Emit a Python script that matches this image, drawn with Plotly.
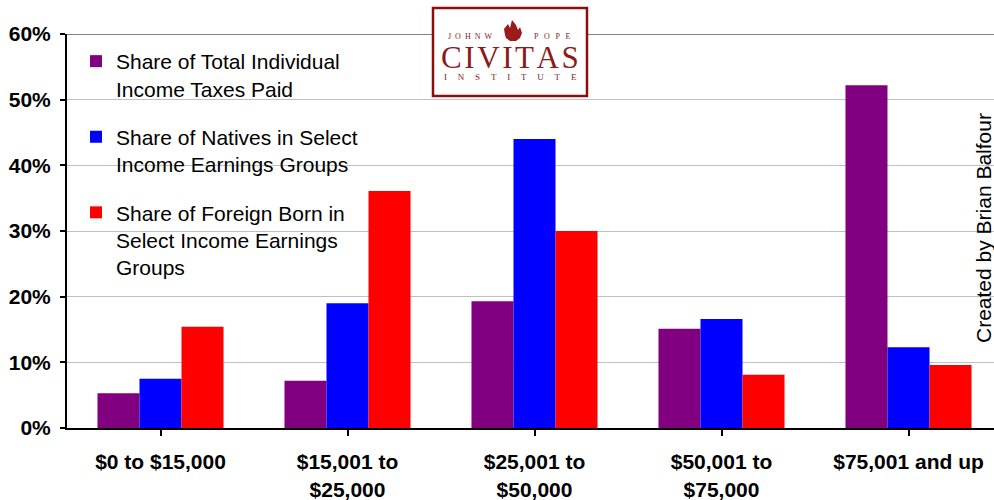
import plotly.graph_objects as go

categories = ["$0 to $15,000", "$15,001 to<br>$25,000", "$25,001 to<br>$50,000",
              "$50,001 to<br>$75,000", "$75,001 and up"]
taxes_paid = [5.3, 7.2, 19.3, 15.1, 52.2]
natives = [7.5, 19.0, 44.0, 16.6, 12.3]
foreign_born = [15.4, 36.1, 30.0, 8.1, 9.6]
series_names = ["Share of Total Individual<br>Income Taxes Paid",
                "Share of Natives in Select<br>Income Earnings Groups",
                "Share of Foreign Born in<br>Select Income Earnings<br>Groups"]
series_colors = ["#800080", "#0000FF", "#FF0000"]
y_ticks = [0, 10, 20, 30, 40, 50, 60]
y_tick_labels = ["0%", "10%", "20%", "30%", "40%", "50%", "60%"]

W, H = 994, 500
L, R, T, B = 67, 0, 34, 72
PW, PH = W - L - R, H - T - B
FONT = "Arial, Liberation Sans, sans-serif"
SERIF = "Liberation Serif, Times New Roman, serif"


def px(x):
    return (x - L) / PW


def py(y):
    return (H - B - y) / PH


fig = go.Figure()
for i, (name, vals, col) in enumerate(zip(series_names, [taxes_paid, natives, foreign_born], series_colors)):
    fig.add_trace(go.Bar(x=list(range(len(categories))), y=vals, name=name,
                         marker=dict(color=col, line=dict(width=0)),
                         legendgroup=f"g{i}"))

fig.update_layout(
    width=W, height=H,
    margin=dict(l=L, r=R, t=T, b=B, pad=0, autoexpand=False),
    paper_bgcolor="white", plot_bgcolor="white",
    barmode="group", bargap=0.326, bargroupgap=0,
    font=dict(family=FONT, color="black"),
    showlegend=True,
    legend=dict(x=px(76), y=py(41), xanchor="left", yanchor="top",
                bgcolor="rgba(0,0,0,0)", font=dict(size=21, family=FONT),
                valign="top", tracegroupgap=18, itemclick=False),
    xaxis=dict(range=[-0.5, -0.5 + PW / 187.0], tickmode="array",
               tickvals=list(range(len(categories))), ticktext=categories,
               tickson="boundaries", ticks="outside", ticklen=6, tickwidth=1.5, tickcolor="black",
               showline=True, linecolor="black", linewidth=2, showgrid=False, zeroline=False,
               tickfont=dict(size=21, family=FONT, weight="bold"), ticklabelstandoff=8,
               automargin=False, fixedrange=True),
    yaxis=dict(range=[0, 60], tickmode="array", tickvals=y_ticks, ticktext=y_tick_labels,
               ticks="outside", ticklen=5, tickwidth=1.5, tickcolor="black",
               showline=True, linecolor="black", linewidth=2,
               showgrid=True, gridcolor="#c0c0c0", gridwidth=1, zeroline=False,
               tickfont=dict(size=21, family=FONT, weight="bold"), ticklabelstandoff=5,
               automargin=False, fixedrange=True),
)

# top border of plot area
fig.add_shape(type="line", xref="paper", yref="y", x0=0, x1=1, y0=60, y1=60,
              line=dict(color="#808080", width=2), layer="above")

# Logo
logo_col = "#8B1A1A"
fig.add_shape(type="rect", xref="paper", yref="paper", x0=px(433), x1=px(587), y0=py(8), y1=py(96),
              fillcolor="white", line=dict(color="#8B0F0F", width=2.5), layer="above")
# flame
fx, fy = 513, 41
pts = [(fx - 8, fy - 6), (fx - 9, fy - 12), (fx - 5, fy - 17), (fx - 3, fy - 13), (fx - 1, fy - 21),
       (fx + 3, fy - 16), (fx + 5, fy - 11), (fx + 7, fy - 14), (fx + 9, fy - 8), (fx + 7, fy - 3),
       (fx + 3, fy), (fx - 3, fy), (fx - 7, fy - 3)]
path = "M " + " L ".join(f"{px(a):.5f},{py(b):.5f}" for a, b in pts) + " Z"
fig.add_shape(type="path", xref="paper", yref="paper", path=path,
              fillcolor="#9B1B1B", line=dict(width=0), layer="above")

sp = "\u2002"
fig.add_annotation(xref="paper", yref="paper", x=px(470), y=py(37), xanchor="center", yanchor="middle",
                   text=sp.join("JOHNW"), showarrow=False,
                   font=dict(family=SERIF, size=8, color=logo_col))
fig.add_annotation(xref="paper", yref="paper", x=px(552), y=py(37), xanchor="center", yanchor="middle",
                   text=(sp + "\u2009").join("POPE"), showarrow=False,
                   font=dict(family=SERIF, size=8, color=logo_col))
fig.add_annotation(xref="paper", yref="paper", x=px(510), y=py(58), xanchor="center", yanchor="middle",
                   text="\u200a".join("CIVITAS"), showarrow=False,
                   font=dict(family=SERIF, size=31, color=logo_col))
fig.add_annotation(xref="paper", yref="paper", x=px(510), y=py(77), xanchor="center", yanchor="middle",
                   text=(sp + sp + "\u2009").join("INSTITUTE"), showarrow=False,
                   font=dict(family=SERIF, size=9, color=logo_col))

# Credit
fig.add_annotation(xref="paper", yref="paper", x=px(983), y=py(228), xanchor="center", yanchor="middle",
                   text="Created by Brian Balfour",
                   textangle=-90, showarrow=False, font=dict(family=FONT, size=21, color="black"))

fig.write_html("out.html", config={"displayModeBar": False},
               post_script="document.body.style.margin='0';")
